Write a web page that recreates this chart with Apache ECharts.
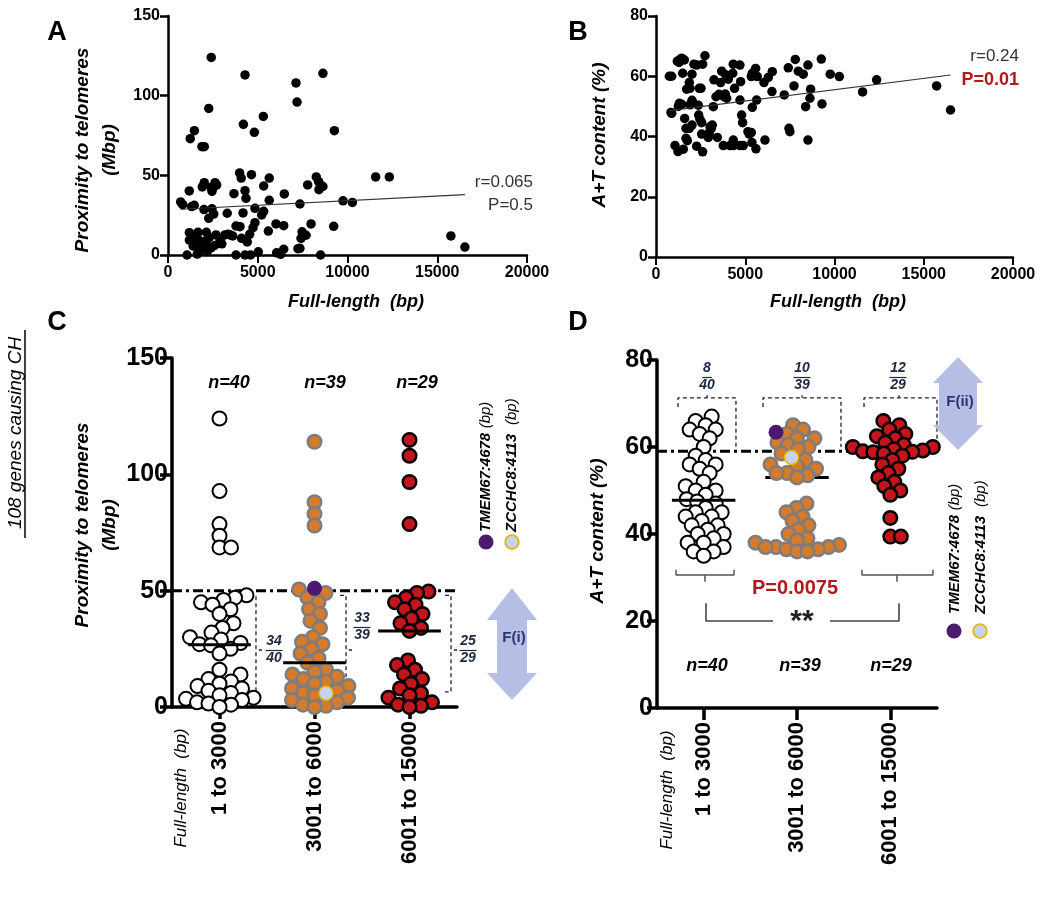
<!DOCTYPE html>
<html><head><meta charset="utf-8">
<script src="https://cdn.jsdelivr.net/npm/echarts@6/dist/echarts.min.js"></script>
<style>html,body{margin:0;padding:0;background:#fff}#c{width:1050px;height:900px}</style>
</head><body><div id="c"></div>
<script>
const FONT = "Arial, 'Liberation Sans', sans-serif";

// ---------- DATA ----------
// Panel A: [full-length bp, proximity to telomeres Mbp]
const scatterA = [
[2410,124],[4290,113],[8630,114],[7130,108],[7190,96],[2270,92],[5310,87],[4200,82],[4810,77],[9270,78],[1470,78],[1240,73],[1890,68],[2020,68],
[11570,49],[12330,49],[15760,12],[16540,5],[9750,34],[10270,33],[9230,18],[8500,0],
[8260,49],[8390,46],[8490,44],[8630,43],[8410,41],[7780,44],[7350,32],[7970,19.5],[7470,14.6],[7540,13],[7690,12.4],[7410,10.5],[7350,4.2],[7240,4],
[3990,51.5],[4080,48.3],[4650,50.4],[5640,48.3],[5330,43.3],
[2020,45.4],[1910,42.7],[2400,42.3],[2620,45.4],[2710,44],[2450,40],[2550,42.7],[1185,40.2],[3675,38.5],[4290,40.4],[4345,35.6],[6480,38.3],[5640,34.3],
[707,33.3],[820,31.6],[1320,30.4],[1465,31.2],[2005,28.5],[2450,29],[2550,25.7],[2270,23],[3300,26.2],[4180,26.4],[4845,29.3],[5330,27.4],[5220,25.1],
[3790,18.2],[4010,17.8],[4845,20.3],[4735,17.1],[5590,15],[6015,19.5],[6445,18.4],
[1190,14],[1190,9.4],[1670,14.2],[1670,10],[2135,14.2],[2135,9],[2675,12.6],[3170,12.6],[3470,12.6],[1400,5.6],[1800,5.6],[2050,3.6],[2400,4.5],[2900,9.4],[3000,7],[2600,6],
[1060,0],[1630,0.6],[3790,0],[4290,0],[4600,0],[5030,2],
[4095,10.5],[4415,8.2],[4550,13],[6050,1.4],[6275,0.4],[6445,3.6],[1500,11],[1900,8],[2300,11],[3350,13],[1750,2],[2200,2.5],[3600,12]
];
// Panel B: [full-length bp, A+T content %]
const scatterB = [
[747,60],[840,48],[880,47.7],[877,60],
[1195,65],[1290,64.6],[1345,65.6],[1440,66],[1585,65.4],[1493,61],[1305,51],[1440,50.7],[1250,50],[1605,46],[1680,42.7],[1064,37],[1232,35],[1530,35.8],[1680,39.4],[1755,38.6],
[1717,55.7],[1866,57.9],[2016,60.7],[2128,64],[2016,52],[2090,51],[1904,50.5],[2016,43.8],[1866,42.7],[2277,36.8],[1904,56],
[2425,56],[2520,56],[2370,50.4],[2390,47.1],[2464,45.7],[2557,44.6],[2613,64],[2744,66.8],[2557,40.8],[2613,34.9],[2280,63.7],
[2930,39.7],[3024,43.2],[3099,42.7],[3155,43.8],[2987,41.3],[3210,49.9],[3248,58.8],[3360,53.2],[3435,39.7],[3530,54],
[3680,61.7],[3623,57.9],[3808,53.2],[3882,54.1],[3958,52.7],
[3770,37],[4144,37],[4330,37],[4704,37],[4890,37],
[3900,60.5],[4050,59],[4300,61],[4400,56],[4330,64],[4700,63.7],[4330,38.8],[4740,58.2],[4704,52.1],[4797,47.1],[4853,44.6],
[5152,41.6],[5227,40.8],[5339,41.3],[5395,49.7],[5339,59.9],[5395,61],[5582,62.6],[5675,59.9],[5638,52.1],[5376,38],[5600,35.9],
[6104,38.8],[6048,57.9],[6290,59.6],[6514,61.5],[6496,54.9],
[7185,53.8],[7410,62.8],[7450,42.7],[7500,41.6],[7730,56.8],[7803,65.6],[7970,61.7],[8250,60.7],[8512,63.7],[8383,49.9],[8624,52.7],[8660,55.7],[8512,38.8],
[9260,65.7],[9300,50.8],[9760,60.7],[10270,59.9],[11575,54.8],[12360,58.8],[15720,56.8],[16500,48.8]
];
// regression lines
const fitA = {intercept: 28.3, slope: 0.000581, r: 'r=0.065', p: 'P=0.5'};
const fitB = {intercept: 48.0, slope: 0.000752, r: 'r=0.24', p: 'P=0.01'};

// Panels C/D: groups by full length
const categories = ['1 to 3000', '3001 to 6000', '6001 to 15000'];
const groupN = ['n=40', 'n=39', 'n=29'];
// Proximity to telomeres (Mbp)
const proxG1 = [124,92.8,78.6,73.6,68.6,68.6,48,47,46,45,44,42,40,36,34,32,30,29,27.5,27,26.5,25,23,16,14,12,11,10,9,8,7,6,5,4,3.5,3,2,1.5,1,0];
const proxG2 = [114,88,83,78,50.5,49,47,45,42,40,37,34,30,28,27,25,23,21,19,16,15,14,13,12,11,10,9,8,7,6,5,4,3,2,1,0.5,0];
const proxG3 = [114.8,108,96.7,78.6,49.6,49,47,45,44,42,40,38,36,34,32.7,20,18,16,14,12,10,8,6,5,4,2,1,0.5,0];
// A+T content (%)
const atG1 = [67,66,65,64,64,63,62,60,58,57,56,56,55,54,52,51,50,50,49,48,47.5,47,46,45,45,44,44,43,42,42,41,40,40,39,38,38,37,36,36,35];
const atG2 = [65,64,63,62,62,61,60.5,60,59.5,58.5,57,56,55.5,55,54,54,53.5,53,47,46,45,44,43,42,41,40,39,38.5,38,37.5,37,37,37,36.5,36.5,36,36];
const atG3 = [66,65,64,63,62.5,62,61,60.5,60,60,59.5,59.2,59,58.9,58.8,58.5,58,57,56,55,54,53,52,51,50,49,43.7,39.4,39.4];
// highlighted genes (group 3001 to 6000)
const tmem67 = {prox: 51, at: 63.4};
const zcchc8 = {prox: 5.9, at: 57.6};
const thresholdProx = 50, thresholdAT = 59;
const fracC = [['34','40'],['33','39'],['25','29']];
const fracD = [['8','40'],['10','39'],['12','29']];
const pD = 'P=0.0075';

// ---------- LAYOUT ----------
const G = {
  A:{left:168, top:16, width:359, height:239},
  B:{left:656, top:16, width:357, height:241},
  C:{left:172, top:358, width:285, height:349},
  D:{left:657, top:360, width:280, height:348}
};
const yMaxC = 150, yMaxD = 80;

function swarm(values, center, pxX, pxY, diam) {
  const idx = values.map((v,i)=>i).sort((a,b)=>values[a]-values[b]);
  const placed = [], out = new Array(values.length);
  idx.forEach(i => {
    const y = values[i]*pxY;
    let best = 0;
    for (let k=0;k<400;k++){
      const c = k===0 ? 0 : (k%2 ? 1 : -1)*Math.ceil(k/2)*0.5;
      if (placed.every(p => (p.x-c)*(p.x-c)+(p.y-y)*(p.y-y) >= diam*diam)) { best = c; break; }
    }
    placed.push({x:best, y});
    out[i] = [center + best/pxX, values[i]];
  });
  return out;
}
function median(a){ const s=[...a].sort((x,y)=>x-y); const n=s.length; return n%2? s[(n-1)/2] : (s[n/2-1]+s[n/2])/2; }

const pxXC = G.C.width/3, pxYC = G.C.height/yMaxC;
const pxXD = G.D.width/3, pxYD = G.D.height/yMaxD;
const DIAM_C = 11.5, DIAM_D = 10.5;

const swC1 = swarm(proxG1, 0.5, pxXC, pxYC, DIAM_C);
const allC2 = proxG2.concat([tmem67.prox, zcchc8.prox]);
const swC2all = swarm(allC2, 1.5, pxXC, pxYC, DIAM_C);
const swC2 = swC2all.slice(0, proxG2.length);
const swC2t = swC2all[proxG2.length], swC2z = swC2all[proxG2.length+1];
const swC3 = swarm(proxG3, 2.5, pxXC, pxYC, DIAM_C);

const swD1 = swarm(atG1, 0.5, pxXD, pxYD, DIAM_D);
const allD2 = atG2.concat([tmem67.at, zcchc8.at]);
const swD2all = swarm(allD2, 1.5, pxXD, pxYD, DIAM_D);
const swD2 = swD2all.slice(0, atG2.length);
const swD2t = swD2all[atG2.length], swD2z = swD2all[atG2.length+1];
const swD3 = swarm(atG3, 2.5, pxXD, pxYD, DIAM_D);

// ---------- STYLES ----------
const openSt = {color:'#fff', borderColor:'#000', borderWidth:2, opacity:1};
const orangeSt = {color:'#d67a2c', borderColor:'#7d7d7d', borderWidth:2.5, opacity:1};
const redSt = {color:'#c3161c', borderColor:'#000', borderWidth:2.5, opacity:1};
const purpleSt = {color:'#4b1a6e', borderWidth:0, opacity:1};
const blueSt = {color:'#c6d4ee', borderColor:'#e5b70d', borderWidth:1.5, opacity:1};

function sc(data, xi, yi, st, size, z){ return {type:'scatter', xAxisIndex:xi, yAxisIndex:yi, data, symbol:'circle', symbolSize:size, itemStyle:st, z:z||2, silent:true}; }
function ln(data, xi, yi, ls, z){ return {type:'line', xAxisIndex:xi, yAxisIndex:yi, data, symbol:'none', lineStyle:ls, z:z||1, silent:true, animation:false}; }

const series = [];
// A
series.push(sc(scatterA, 0, 0, {color:'#000', opacity:1}, 9.5));
{ const xs = scatterA.map(p=>p[0]); const x0=Math.min(...xs), x1=Math.max(...xs);
  series.push(ln([[x0, fitA.intercept+fitA.slope*x0],[x1, fitA.intercept+fitA.slope*x1]],0,0,{color:'#333',width:1.2},3)); }
// B
series.push(sc(scatterB, 1, 1, {color:'#000', opacity:1}, 9.5));
{ const xs = scatterB.map(p=>p[0]); const x0=Math.min(...xs), x1=Math.max(...xs);
  series.push(ln([[x0, fitB.intercept+fitB.slope*x0],[x1, fitB.intercept+fitB.slope*x1]],1,1,{color:'#333',width:1.2},3)); }

// C
const dashDot = {color:'#000', width:3, type:[10,4,3,4]};
series.push(ln([[0,thresholdProx],[3,thresholdProx]],3,2,dashDot,1));
series.push(sc(swC1,3,2,openSt,14));
series.push(sc(swC2,3,2,orangeSt,13.5));
series.push(sc(swC3,3,2,redSt,13.5));
series.push(sc([swC2t],3,2,purpleSt,15,5));
series.push(sc([swC2z],3,2,blueSt,14,5));
[proxG1, allC2, proxG3].forEach((g,i)=>{ const m=median(g); series.push(ln([[i+0.5-0.33,m],[i+0.5+0.33,m]],3,2,{color:'#000',width:3},4)); });
// C dashed brackets (annotation, data units)
const bracketC = [
  {x:0.884, l:0.821, r:0.947, top:48, bot:3, mid:24.5},
  {x:1.832, l:1.768, r:1.895, top:48, bot:6, mid:24.5},
  {x:2.937, l:2.874, r:3.0, top:48, bot:6.5, mid:24.5}
];
const dashSt = {color:'#222', width:1.3, type:[4,3]};
bracketC.forEach(b=>{
  series.push(ln([[b.l,b.top],[b.x,b.top],[b.x,b.bot],[b.l,b.bot]],3,2,dashSt,1));
  series.push(ln([[b.x+0.03,b.mid],[b.r,b.mid]],3,2,{color:'#222',width:1.3},1));
});

// D
series.push(ln([[0,thresholdAT],[3,thresholdAT]],5,3,dashDot,1));
[allD2, atG3].forEach((g,j)=>{ const m=median(g); const i=j+1; series.push(ln([[i+0.5-0.34,m],[i+0.5+0.34,m]],5,3,{color:'#000',width:3},1)); });
series.push(sc(swD1,5,3,openSt,14));
series.push(sc(swD2,5,3,orangeSt,13.5));
series.push(sc(swD3,5,3,redSt,13.5));
series.push(sc([swD2t],5,3,purpleSt,15,5));
series.push(sc([swD2z],5,3,blueSt,14,5));
{ const m=median(atG1); series.push(ln([[0.5-0.34,m],[0.5+0.34,m]],5,3,{color:'#000',width:3},4)); }
const bracketDtop = [
  {l:0.225, r:0.846, c:0.536},
  {l:1.136, r:1.971, c:1.554},
  {l:2.218, r:3.0, c:2.593}
];
bracketDtop.forEach(b=>{
  series.push(ln([[b.l,69.2],[b.l,71.3],[b.r,71.3],[b.r,60]],5,3,dashSt,1));
  series.push(ln([[b.c,71.3],[b.c,71.9]],5,3,{color:'#222',width:1.3},1));
});
const grayB = {color:'#555', width:1.5};
[{l:0.204,r:0.825,c:0.514},{l:2.196,r:2.957,c:2.571}].forEach(b=>{
  series.push(ln([[b.l,31.8],[b.l,30.6],[b.r,30.6],[b.r,31.8]],5,3,grayB,1));
  series.push(ln([[b.c,30.6],[b.c,29.0]],5,3,grayB,1));
});
series.push(ln([[0.525,24.1],[0.525,20],[1.243,20]],5,3,{color:'#444',width:1.6},1));
series.push(ln([[1.854,20],[2.593,20],[2.593,24.1]],5,3,{color:'#444',width:1.6},1));

// ---------- AXES ----------
function valX(gi, labelSize, lw, tl){ return {gridIndex:gi, type:'value', min:0, max:20000, interval:5000,
  axisLine:{show:true, onZero:false, lineStyle:{color:'#000', width:lw}}, axisTick:{show:true, length:tl, lineStyle:{color:'#000', width:2}},
  axisLabel:{color:'#000', fontFamily:FONT, fontWeight:'bold', fontSize:labelSize, margin:10, formatter:v=>String(v)}, splitLine:{show:false}}; }
function valY(gi, max, interval, labelSize, lw, tl, margin){ return {gridIndex:gi, type:'value', min:0, max, interval,
  axisLine:{show:true, onZero:false, lineStyle:{color:'#000', width:lw}}, axisTick:{show:true, length:tl, lineStyle:{color:'#000', width:lw}},
  axisLabel:{color:'#000', fontFamily:FONT, fontWeight:'bold', fontSize:labelSize, margin, formatter:v=>String(v)}, splitLine:{show:false}}; }
function catX(gi){ return {gridIndex:gi, type:'category', data:categories, boundaryGap:true,
  axisLine:{show:true, onZero:false, lineStyle:{color:'#000', width:3.5}},
  axisTick:{show:true, alignWithLabel:true, length:12, lineStyle:{color:'#000', width:3.5}},
  axisLabel:{rotate:90, color:'#000', fontFamily:FONT, fontWeight:'bold', fontSize:22, margin:14}, splitLine:{show:false}}; }
function hidX(gi){ return {gridIndex:gi, type:'value', min:0, max:3, show:false}; }

const xAxis = [valX(0,16,2.5,8), valX(1,16,2.5,8), catX(2), hidX(2), catX(3), hidX(3)];
const yAxis = [valY(0,150,50,16,2.5,8,8), valY(1,80,20,16,2.5,8,8), valY(2,yMaxC,50,25,3.5,12,4), valY(3,yMaxD,20,25,3.5,10,4)];

// ---------- TEXT / GRAPHICS ----------
const graphics = [];
function T(x,y,text,o){ o=o||{}; graphics.push({type:'text', x, y, rotation:o.rot||0, z:100, silent:true,
  style:{text, fontFamily:FONT, fontSize:o.size||16, fontWeight:o.weight||'normal', fontStyle:o.style||'normal', fill:o.color||'#000', align:o.align||'center', verticalAlign:o.va||'middle', rich:o.rich}}); }
function L(x1,y1,x2,y2,c,w){ graphics.push({type:'line', z:100, silent:true, shape:{x1,y1,x2,y2}, style:{stroke:c||'#000', lineWidth:w||1.2}}); }
const R = Math.PI/2;

// panel letters
T(57,33,'A',{size:27,weight:'bold'}); T(578,33,'B',{size:27,weight:'bold'});
T(57,323,'C',{size:27,weight:'bold'}); T(578,323,'D',{size:27,weight:'bold'});
// A
T(83,150,'Proximity to telomeres',{rot:R,size:19,weight:'bold',style:'italic'});
T(110,150,'(Mbp)',{rot:R,size:19,weight:'bold',style:'italic'});
T(356,302,'Full-length  (bp)',{size:18,weight:'bold',style:'italic'});
T(533,182,fitA.r,{size:17,align:'right',color:'#333'});
T(533,205,fitA.p,{size:17,align:'right',color:'#333'});
// B
T(600,135,'A+T content (%)',{rot:R,size:19,weight:'bold',style:'italic'});
T(838,302,'Full-length  (bp)',{size:18,weight:'bold',style:'italic'});
T(1019,56,fitB.r,{size:17,align:'right',color:'#333'});
T(1019,80,fitB.p,{size:18,align:'right',color:'#b01a1a',weight:'bold'});
// C
T(16,433,'108 genes causing CH',{rot:R,size:19,style:'italic'});
L(25,330,25,538,'#000',1.5);
T(83,525,'Proximity to telomeres',{rot:R,size:19,weight:'bold',style:'italic'});
T(110,525,'(Mbp)',{rot:R,size:19,weight:'bold',style:'italic'});
T(181,788,'Full-length  (bp)',{rot:R,size:17,style:'italic'});
[229,325,417].forEach((x,i)=>T(x,383,groupN[i],{size:18,weight:'bold',style:'italic'}));
function frac(x,y1,y2,num,den,size){
  T(x,y1,num,{size,weight:'bold',style:'italic',color:'#1e2740'});
  T(x,y2,den,{size,weight:'bold',style:'italic',color:'#1e2740'});
  const w = Math.max(num.length,1)*7.5+2; const yb=(y1+y2)/2+1;
  L(x-w/2,yb,x+w/2,yb,'#1e2740',1.2);
}
frac(274,641,658,fracC[0][0],fracC[0][1],14);
frac(362,618,635,fracC[1][0],fracC[1][1],14);
frac(468,641,658,fracC[2][0],fracC[2][1],14);
// legend C
const legRich = {a:{fontFamily:FONT,fontSize:15,fontWeight:'bold',fontStyle:'italic'}, b:{fontFamily:FONT,fontSize:15,fontStyle:'italic'}};
T(486,532,'{a|TMEM67:4678} {b|(bp)}',{rot:R,align:'left',rich:legRich});
T(512,532,'{a|ZCCHC8:4113}  {b|(bp)}',{rot:R,align:'left',rich:legRich});
graphics.push({type:'circle', z:100, shape:{cx:486,cy:542,r:7.5}, style:{fill:'#4b1a6e'}});
graphics.push({type:'circle', z:100, shape:{cx:512,cy:542,r:6.8}, style:{fill:'#c6d4ee', stroke:'#e5b70d', lineWidth:1.8}});
// arrows
const arrowCol = '#b7bee6';
graphics.push({type:'polygon', z:90, shape:{points:[[512,588],[537,620],[527,620],[527,673],[537,673],[512,700],[487,673],[497,673],[497,620],[487,620]]}, style:{fill:arrowCol}});
T(514,638,'F(i)',{size:15,weight:'bold',color:'#2b3570'});
graphics.push({type:'polygon', z:90, shape:{points:[[958,357],[983,383],[977,383],[977,425],[983,425],[958,450],[933,425],[939,425],[939,383],[933,383]]}, style:{fill:arrowCol}});
T(960,402,'F(ii)',{size:15,weight:'bold',color:'#2b3570'});
// D
T(598,531,'A+T content (%)',{rot:R,size:19,weight:'bold',style:'italic'});
T(667,790,'Full-length  (bp)',{rot:R,size:17,style:'italic'});
frac(707,368,385,fracD[0][0],fracD[0][1],14);
frac(802,368,385,fracD[1][0],fracD[1][1],14);
frac(898,368,385,fracD[2][0],fracD[2][1],14);
T(795,588,pD,{size:20,weight:'bold',color:'#b01a1a'});
T(802,622,'**',{size:30,weight:'bold',color:'#222'});
[707,800,891].forEach((x,i)=>T(x,666,groupN[i],{size:18,weight:'bold',style:'italic'}));
T(955,614,'{a|TMEM67:4678} {b|(bp)}',{rot:R,align:'left',rich:legRich});
T(981,614,'{a|ZCCHC8:4113}  {b|(bp)}',{rot:R,align:'left',rich:legRich});
graphics.push({type:'circle', z:100, shape:{cx:954,cy:631,r:7.5}, style:{fill:'#4b1a6e'}});
graphics.push({type:'circle', z:100, shape:{cx:980,cy:631,r:6.8}, style:{fill:'#c6d4ee', stroke:'#e5b70d', lineWidth:1.8}});

const chart = echarts.init(document.getElementById('c'), null, {renderer:'canvas'});
chart.setOption({
  animation:false,
  backgroundColor:'#fff',
  grid:[G.A,G.B,G.C,G.D].map(g=>Object.assign({containLabel:false}, g)),
  xAxis, yAxis, series, graphic:graphics
});
</script></body></html>
